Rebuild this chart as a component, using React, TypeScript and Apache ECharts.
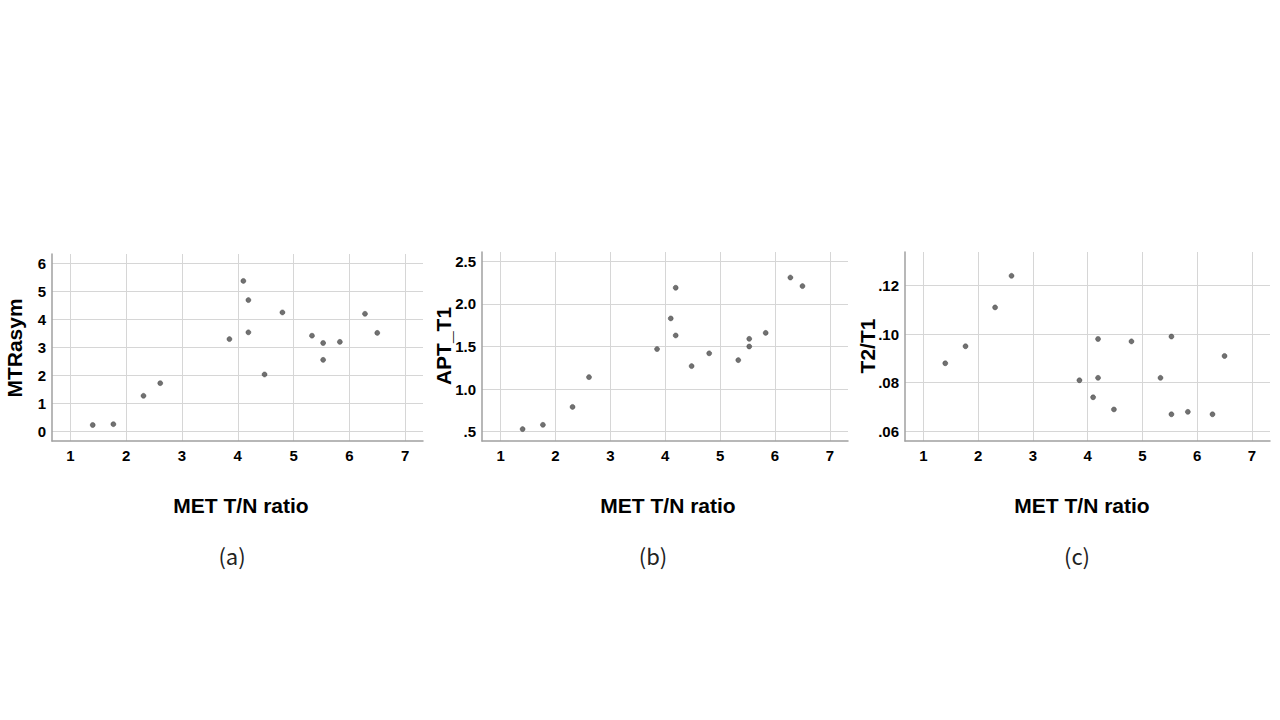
import React, { useEffect, useRef } from "react";
import * as echarts from "echarts";

const metRatio = [1.40, 1.77, 2.31, 2.61, 3.85, 4.10, 4.19, 4.19, 4.48, 4.80, 5.33, 5.53, 5.53, 5.83, 6.28, 6.50];
const mtrasym = [0.24, 0.27, 1.28, 1.73, 3.30, 5.37, 4.69, 3.54, 2.04, 4.25, 3.42, 3.16, 2.56, 3.20, 4.20, 3.52];
const aptT1 = [0.53, 0.58, 0.79, 1.14, 1.47, 1.83, 2.19, 1.63, 1.27, 1.42, 1.34, 1.59, 1.50, 1.66, 2.31, 2.21];
const t2t1 = [0.088, 0.095, 0.111, 0.124, 0.081, 0.074, 0.098, 0.082, 0.069, 0.097, 0.082, 0.099, 0.067, 0.068, 0.067, 0.091];

const xTicks = [1, 2, 3, 4, 5, 6, 7];
const yTicksA = [0, 1, 2, 3, 4, 5, 6];
const yTicksB = [0.5, 1.0, 1.5, 2.0, 2.5];
const yTicksC = [0.06, 0.08, 0.10, 0.12];

const xName = "MET T/N ratio";
const yNames = ["MTRasym", "APT_T1", "T2/T1"];
const panelLabels = ["(a)", "(b)", "(c)"];

const TICK_FONT = { color: "#000", fontSize: 15, fontWeight: "bold" as const, fontFamily: "Liberation Sans, Arial, sans-serif" };

function stripZero(v: number, d: number) {
  return v.toFixed(d).replace(/^0\./, ".");
}

export default function App() {
  const ref = useRef<HTMLDivElement>(null);
  useEffect(() => {
    if (!ref.current) return;
    const chart = echarts.init(ref.current, null, { renderer: "svg" });

    const grids = [
      { left: 52, top: 254, width: 371, height: 187 },
      { left: 482, top: 252, width: 366, height: 189 },
      { left: 905, top: 252, width: 365, height: 189 },
    ];
    const xRange = [
      [0.67, 7.32],
      [0.66, 7.33],
      [0.665, 7.33],
    ];
    const yCfg = [
      { min: -0.33, max: 6.33, ticks: yTicksA, fmt: (v: number) => String(Math.round(v)) },
      { min: 0.39, max: 2.61, ticks: yTicksB, fmt: (v: number) => stripZero(v, 1) },
      { min: 0.056, max: 0.1338, ticks: yTicksC, fmt: (v: number) => stripZero(v, 2) },
    ];
    const yData = [mtrasym, aptT1, t2t1];

    const axisLine = { show: true, onZero: false, lineStyle: { color: "#a0a0a0", width: 1.5 } };
    const splitLine = { show: true, lineStyle: { color: "#d6d6d6", width: 1 } };

    const xAxis = grids.map((_, i) => ({
      type: "value",
      gridIndex: i,
      min: xRange[i][0],
      max: xRange[i][1],
      axisLine,
      axisTick: { show: true, length: 0, customValues: xTicks },
      axisLabel: { ...TICK_FONT, margin: 7, customValues: xTicks, formatter: (v: number) => String(Math.round(v)) },
      splitLine: { ...splitLine },
    }));
    const yAxis = grids.map((_, i) => ({
      type: "value",
      gridIndex: i,
      min: yCfg[i].min,
      max: yCfg[i].max,
      axisLine,
      axisTick: { show: true, length: 0, customValues: yCfg[i].ticks },
      axisLabel: { ...TICK_FONT, margin: 6, customValues: yCfg[i].ticks, formatter: yCfg[i].fmt },
      splitLine: { ...splitLine },
    }));
    const series = grids.map((_, i) => ({
      type: "scatter",
      xAxisIndex: i,
      yAxisIndex: i,
      symbolSize: 5,
      itemStyle: { color: "#4d4d4d", borderColor: "#333333", borderWidth: 0.5 },
      data: metRatio.map((x, k) => [x, yData[i][k]]),
    }));

    const yNamePos = [
      [14, 348],
      [443, 346],
      [867, 346],
    ];
    const xNameX = [241, 668, 1082];
    const subX = [232, 653, 1077];

    const graphic: any[] = [];
    for (let i = 0; i < 3; i++) {
      graphic.push({
        type: "text",
        x: yNamePos[i][0],
        y: yNamePos[i][1],
        rotation: Math.PI / 2,
        style: {
          text: yNames[i],
          fill: "#000",
          font: "bold 21px 'Liberation Sans', Arial, sans-serif",
          textAlign: "center",
          textVerticalAlign: "middle",
        },
      });
      graphic.push({
        type: "text",
        x: xNameX[i],
        y: 505,
        style: {
          text: xName,
          fill: "#000",
          font: "bold 21px 'Liberation Sans', Arial, sans-serif",
          textAlign: "center",
          textVerticalAlign: "middle",
        },
      });
      graphic.push({
        type: "text",
        x: subX[i],
        y: 555,
        style: {
          text: panelLabels[i],
          fill: "#222",
          font: "normal 22px 'Noto Sans CJK JP', sans-serif",
          textAlign: "center",
          textVerticalAlign: "middle",
        },
      });
    }

    chart.setOption({
      animation: false,
      backgroundColor: "#ffffff",
      grid: grids.map((g) => ({ ...g, containLabel: false })),
      xAxis,
      yAxis,
      series,
      graphic,
    });
    return () => chart.dispose();
  }, []);

  return (
    <div
      ref={ref}
      style={{ position: "fixed", left: 0, top: 0, width: 1280, height: 720, background: "#fff" }}
    />
  );
}
